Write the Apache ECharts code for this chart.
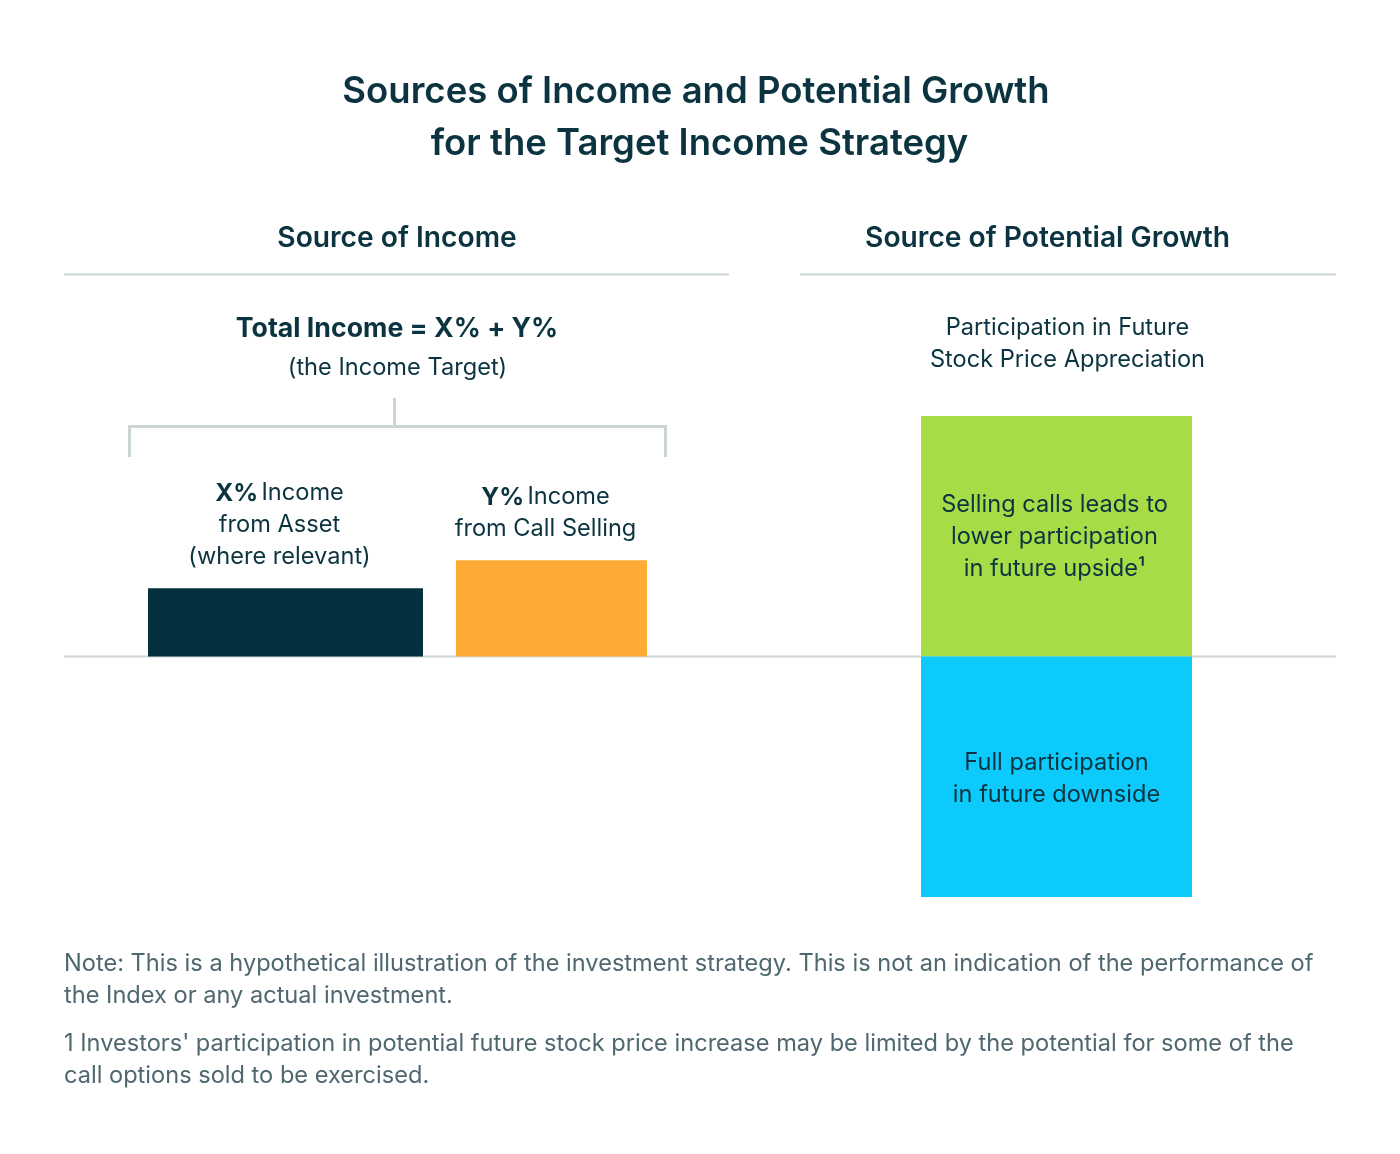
<!DOCTYPE html>
<html>
<head>
<meta charset="utf-8">
<style>html,body{margin:0;padding:0;background:#fff}#c{width:1400px;height:1154px}</style>
<script src="https://cdn.jsdelivr.net/npm/echarts@6/dist/echarts.min.js"></script>
</head>
<body>
<div id="c"></div>
<script>
const titleLines = ['Sources of Income and Potential Growth', 'for the Target Income Strategy'];
const sectionTitles = ['Source of Income', 'Source of Potential Growth'];
const incomeCategories = ['X% Income from Asset (where relevant)', 'Y% Income from Call Selling'];
const incomeValues = [68, 96];
const growthCategory = ['Stock Price Appreciation'];
const upsideValues = [240];
const downsideValues = [-240];
const notes = [
  'Note: This is a hypothetical illustration of the investment strategy. This is not an indication of the performance of\nthe Index or any actual investment.',
  '1 Investors\' participation in potential future stock price increase may be limited by the potential for some of the\ncall options sold to be exercised.'
];

const FONT = 'Inter';
const DARK = '#0b3440';
const LINE = '#c9d6d3';
const BODY = 23.6;
const chart = echarts.init(document.getElementById('c'), null, {renderer: 'canvas'});

const grids = [
  {left: 148, width: 275, top: 416, height: 481},
  {left: 456, width: 191, top: 416, height: 481},
  {left: 921, width: 271, top: 416, height: 481}
];
const yAxes = grids.map((g, i) => ({gridIndex: i, type: 'value', min: -240, max: 240, show: false, splitLine: {show: false}}));
const xAxes = [
  {gridIndex: 0, type: 'category', data: [incomeCategories[0]], show: false},
  {gridIndex: 1, type: 'category', data: [incomeCategories[1]], show: false},
  {gridIndex: 2, type: 'category', data: growthCategory, show: false}
];

const richTop = {
  b: {fontFamily: FONT, fontSize: 24.5, fontWeight: 700, color: DARK, lineHeight: 32},
  n: {fontFamily: FONT, fontSize: BODY, fontWeight: 400, color: DARK, lineHeight: 32}
};

const series = [
  {type: 'bar', xAxisIndex: 0, yAxisIndex: 0, barWidth: '100%', data: [incomeValues[0]],
   itemStyle: {color: '#04303f'},
   label: {show: true, position: 'top', distance: 15, align: 'center', offset: [-6, 0],
     formatter: '{b|X%} {n|Income}\n{n|from Asset}\n{n|(where relevant)}', rich: richTop}},
  {type: 'bar', xAxisIndex: 1, yAxisIndex: 1, barWidth: '100%', data: [incomeValues[1]],
   itemStyle: {color: '#fdab35'},
   label: {show: true, position: 'top', distance: 15, align: 'center', offset: [-6, 0],
     formatter: '{b|Y%} {n|Income}\n{n|from Call Selling}', rich: richTop}},
  {type: 'bar', xAxisIndex: 2, yAxisIndex: 2, barWidth: '100%', barGap: '-100%', data: [upsideValues[0]],
   itemStyle: {color: '#a8dc47'},
   label: {show: true, position: 'inside', fontFamily: FONT, fontSize: BODY, color: DARK, lineHeight: 32, align: 'center', offset: [-2, 1],
     formatter: 'Selling calls leads to\nlower participation\nin future upside\u00b9'}},
  {type: 'bar', xAxisIndex: 2, yAxisIndex: 2, barWidth: '100%', barGap: '-100%', data: [downsideValues[0]],
   itemStyle: {color: '#0ccbfc'},
   label: {show: true, position: 'inside', fontFamily: FONT, fontSize: BODY, color: DARK, lineHeight: 32, align: 'center', offset: [0, 2],
     formatter: 'Full participation\nin future downside'}}
];

const txt = (x, y, text, size, weight, color, align, lh) => ({
  type: 'text', x: x, y: y, silent: true,
  style: {text: text, fontFamily: FONT, fontSize: size, fontWeight: weight, fill: color,
    align: align || 'center', verticalAlign: 'middle', lineHeight: lh || size * 1.4}
});
const line = (x1, y1, x2, y2, w, c) => ({type: 'line', silent: true, shape: {x1, y1, x2, y2}, style: {stroke: c || LINE, lineWidth: w || 2}});

const graphic = [
  txt(696, 92, titleLines[0], 36.5, 600, DARK),
  txt(699.5, 144, titleLines[1], 36.5, 600, DARK),
  txt(397, 239, sectionTitles[0], 28.2, 600, DARK),
  txt(1047.5, 239, sectionTitles[1], 28.2, 600, DARK),
  line(64, 274.5, 729, 274.5, 2),
  line(800, 274.5, 1336, 274.5, 2),
  txt(397, 329, 'Total Income = X% + Y%', 26.7, 700, DARK),
  txt(397.5, 367.5, '(the Income Target)', BODY, 400, DARK),
  txt(1067.5, 343.5, 'Participation in Future\nStock Price Appreciation', BODY, 400, DARK, 'center', 32),
  {type: 'polyline', silent: true, shape: {points: [[129.5, 457], [129.5, 426.5], [665.5, 426.5], [665.5, 457]]}, style: {stroke: LINE, lineWidth: 3, fill: null}},
  line(394.5, 398, 394.5, 426, 3),
  line(64, 656.5, 1336, 656.5, 2, '#cfd6d6'),
  {type: 'text', x: 64, y: 947.5, silent: true, style: {text: notes[0], fontFamily: FONT, fontSize: BODY, fill: '#4f6870', align: 'left', verticalAlign: 'top', lineHeight: 32}},
  {type: 'text', x: 64, y: 1027.5, silent: true, style: {text: notes[1], fontFamily: FONT, fontSize: BODY, fill: '#4f6870', align: 'left', verticalAlign: 'top', lineHeight: 32}}
];

chart.setOption({
  animation: false,
  backgroundColor: '#ffffff',
  grid: grids,
  xAxis: xAxes,
  yAxis: yAxes,
  series: series,
  graphic: {elements: graphic}
});
</script>
</body>
</html>
